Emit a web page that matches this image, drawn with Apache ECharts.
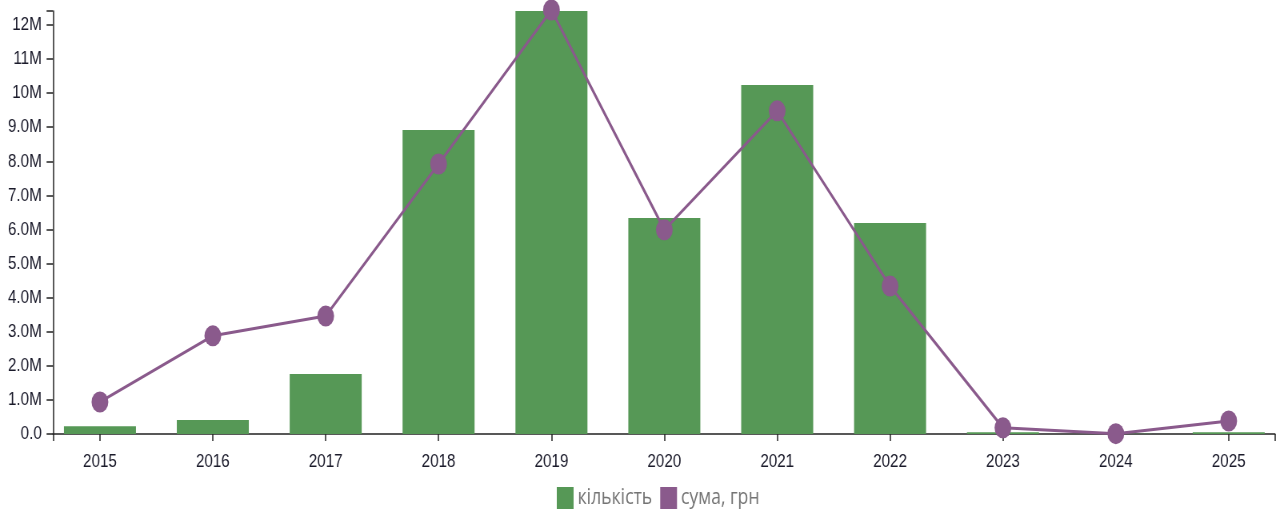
<!DOCTYPE html>
<html>
<head>
<meta charset="utf-8">
<script src="https://cdn.jsdelivr.net/npm/echarts@6/dist/echarts.min.js"></script>
<style>
html,body{margin:0;padding:0;background:#fff;overflow:hidden;}
#wrap{width:1284px;height:513px;overflow:hidden;position:relative;}
#chart{width:1605px;height:513px;transform:scaleX(0.8);transform-origin:0 0;position:absolute;left:0;top:0;}
</style>
</head>
<body>
<div id="wrap"><div id="chart"></div></div>
<script>
// Data
var years = [2015, 2016, 2017, 2018, 2019, 2020, 2021, 2022, 2023, 2024, 2025];
var kilkist = [230000, 410000, 1760000, 8920000, 12440000, 6340000, 10240000, 6190000, 50000, 10000, 50000];
var suma = [940000, 2880000, 3460000, 7920000, 12440000, 5990000, 9480000, 4340000, 180000, 10000, 380000];
var yTicks = [0, 1e6, 2e6, 3e6, 4e6, 5e6, 6e6, 7e6, 8e6, 9e6, 10e6, 11e6, 12e6];
var seriesNames = ['кількість', 'сума, грн'];

var xMin = 2014.584, xMax = 2025.41, yMax = 12.41e6;

function fmtY(v) {
  if (v === 0) return '0.0';
  var m = v / 1e6;
  return (m < 10 ? m.toFixed(1) : m.toFixed(0)) + 'M';
}

var font = "'Liberation Sans', Arial, sans-serif";
var chart = echarts.init(document.getElementById('chart'), null, {renderer: 'canvas'});
chart.setOption({
  animation: false,
  backgroundColor: '#ffffff',
  grid: {left: 66.25, right: 11.25, top: 11, bottom: 79, containLabel: false},
  legend: {
    data: seriesNames,
    left: 691, top: 482,
    itemWidth: 21, itemHeight: 22, itemGap: 10,
    icon: 'rect',
    textStyle: {fontFamily: "'Open Sans', sans-serif", fontSize: 22, color: '#747474'}
  },
  xAxis: {
    type: 'value', min: xMin, max: xMax,
    splitLine: {show: false},
    axisLine: {show: true, onZero: false, lineStyle: {color: '#222', width: 1.5}},
    axisTick: {show: true, length: 7, customValues: [xMin].concat(years, [xMax]), lineStyle: {color: '#222', width: 1.5}},
    axisLabel: {customValues: years, formatter: function (v) { return String(Math.round(v)); },
      fontFamily: font, fontSize: 19, color: '#1a1a2a', margin: 18}
  },
  yAxis: {
    type: 'value', min: 0, max: yMax,
    splitLine: {show: false},
    axisLine: {show: true, lineStyle: {color: '#222', width: 1.5}},
    axisTick: {show: true, length: 8, customValues: yTicks.concat([yMax]), lineStyle: {color: '#222', width: 1.5}},
    axisLabel: {customValues: yTicks, formatter: fmtY, fontFamily: font, fontSize: 19, color: '#1a1a2a', margin: 14}
  },
  series: [
    {
      name: seriesNames[0], type: 'bar', barWidth: 90,
      itemStyle: {color: '#569856'},
      data: years.map(function (y, i) { return [y, kilkist[i]]; })
    },
    {
      name: seriesNames[1], type: 'line', clip: false,
      symbol: 'circle', symbolSize: 21, showAllSymbol: true,
      lineStyle: {color: '#8a5a8c', width: 3},
      itemStyle: {color: '#8a5a8c'},
      data: years.map(function (y, i) { return [y, suma[i]]; })
    }
  ]
});
</script>
</body>
</html>
